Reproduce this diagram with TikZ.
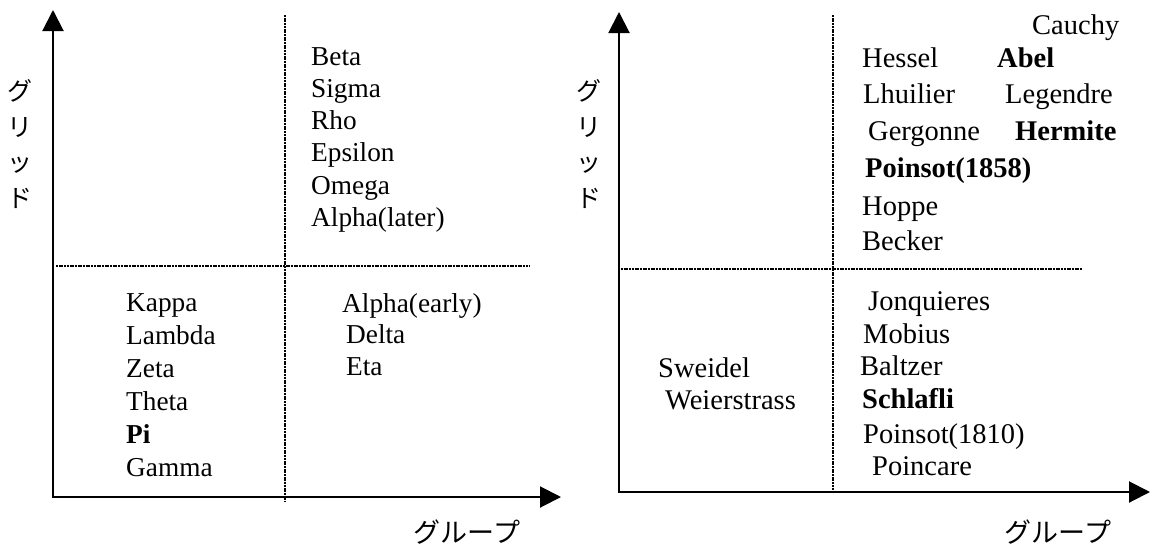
\documentclass[tikz,border=0pt]{standalone}
\usepackage{fontspec}
\setmainfont{Liberation Serif}
\newfontfamily\jpfont{Noto Sans CJK JP}
\usetikzlibrary{arrows.meta}
\begin{document}
\begin{tikzpicture}[x=1pt,y=-1pt,
  axisline/.style={line width=2pt,-{Triangle[length=21pt,width=21pt]}},
  splitline/.style={line width=1.2pt,dash pattern=on 2pt off 0.7pt},
  lt/.style={anchor=base west,inner sep=0pt,font=\fontsize{27.3}{30}\selectfont},
  rt/.style={anchor=base west,inner sep=0pt,font=\fontsize{28.5}{30}\selectfont},
  jpv/.style={align=center,inner sep=0pt,font=\jpfont\fontsize{25}{35.5}\selectfont},
  jph/.style={inner sep=0pt,font=\jpfont\fontsize{27}{30}\selectfont}]
\useasboundingbox (0,0) rectangle (1150,546);
% ---------- left panel ----------
\coordinate (O1) at (53,497);
\coordinate (Y1) at (53,10);
\coordinate (X1) at (561,497);
\coordinate (V1t) at (285,15);
\coordinate (V1b) at (285,502);
\coordinate (H1l) at (56,266);
\coordinate (H1r) at (530,266);
\draw[splitline] (V1t) -- (V1b);
\draw[splitline] (H1l) -- (H1r);
\draw[axisline] (O1) -- (Y1);
\draw[axisline] ([xshift=-1pt]O1) -- (X1);
\node[jpv] (gridL) at (20,144) {グ\\リ\\ッ\\ド};
\node[jph] (groupL) at (467,532) {グループ};
\node[lt] (beta) at (311,65) {Beta};
\node[lt] (sigma) at (311,97) {Sigma};
\node[lt] (rho) at (311,129) {Rho};
\node[lt] (eps) at (311,161) {Epsilon};
\node[lt] (omega) at (311,194) {Omega};
\node[lt] (alphaL) at (311,226) {Alpha(later)};
\node[lt] (kappa) at (126,311) {Kappa};
\node[lt] (lambda) at (126,344) {Lambda};
\node[lt] (zeta) at (126,377) {Zeta};
\node[lt] (theta) at (126,410) {Theta};
\node[lt,font=\fontsize{27.3}{30}\selectfont\bfseries] (pi) at (126,443) {Pi};
\node[lt] (gamma) at (126,476) {Gamma};
\node[lt] (alphaE) at (342,312) {Alpha(early)};
\node[lt] (delta) at (346,343) {Delta};
\node[lt] (eta) at (346,375) {Eta};
% ---------- right panel ----------
\coordinate (O2) at (619,492);
\coordinate (Y2) at (619,12);
\coordinate (X2) at (1150,492);
\coordinate (V2t) at (833,15);
\coordinate (V2b) at (833,490);
\coordinate (H2l) at (621,269);
\coordinate (H2r) at (1082,269);
\draw[splitline] (V2t) -- (V2b);
\draw[splitline] (H2l) -- (H2r);
\draw[axisline] (O2) -- (Y2);
\draw[axisline] ([xshift=-1pt]O2) -- (X2);
\node[jpv] (gridR) at (589,144) {グ\\リ\\ッ\\ド};
\node[jph] (groupR) at (1058,532) {グループ};
\node[rt] (cauchy) at (1032,34) {Cauchy};
\node[rt] (hessel) at (862,67) {Hessel};
\node[rt,font=\fontsize{28.5}{30}\selectfont\bfseries] (abel) at (997,67) {Abel};
\node[rt] (lhuilier) at (863,103) {Lhuilier};
\node[rt] (legendre) at (1005,103) {Legendre};
\node[rt] (gergonne) at (868,140) {Gergonne};
\node[rt,font=\fontsize{28.5}{30}\selectfont\bfseries] (hermite) at (1015,140) {Hermite};
\node[rt,font=\fontsize{28.5}{30}\selectfont\bfseries] (poinsotA) at (865,177) {Poinsot(1858)};
\node[rt] (hoppe) at (862,215) {Hoppe};
\node[rt] (becker) at (862,250) {Becker};
\node[rt] (jonq) at (868,310) {Jonquieres};
\node[rt] (mobius) at (863,343) {Mobius};
\node[rt] (baltzer) at (860,375) {Baltzer};
\node[rt,font=\fontsize{28.5}{30}\selectfont\bfseries] (schlafli) at (862,408) {Schlafli};
\node[rt] (poinsotB) at (863,443) {Poinsot(1810)};
\node[rt] (poincare) at (872,475) {Poincare};
\node[rt] (sweidel) at (658,377) {Sweidel};
\node[rt] (weier) at (665,409) {Weierstrass};
\end{tikzpicture}
\end{document}
